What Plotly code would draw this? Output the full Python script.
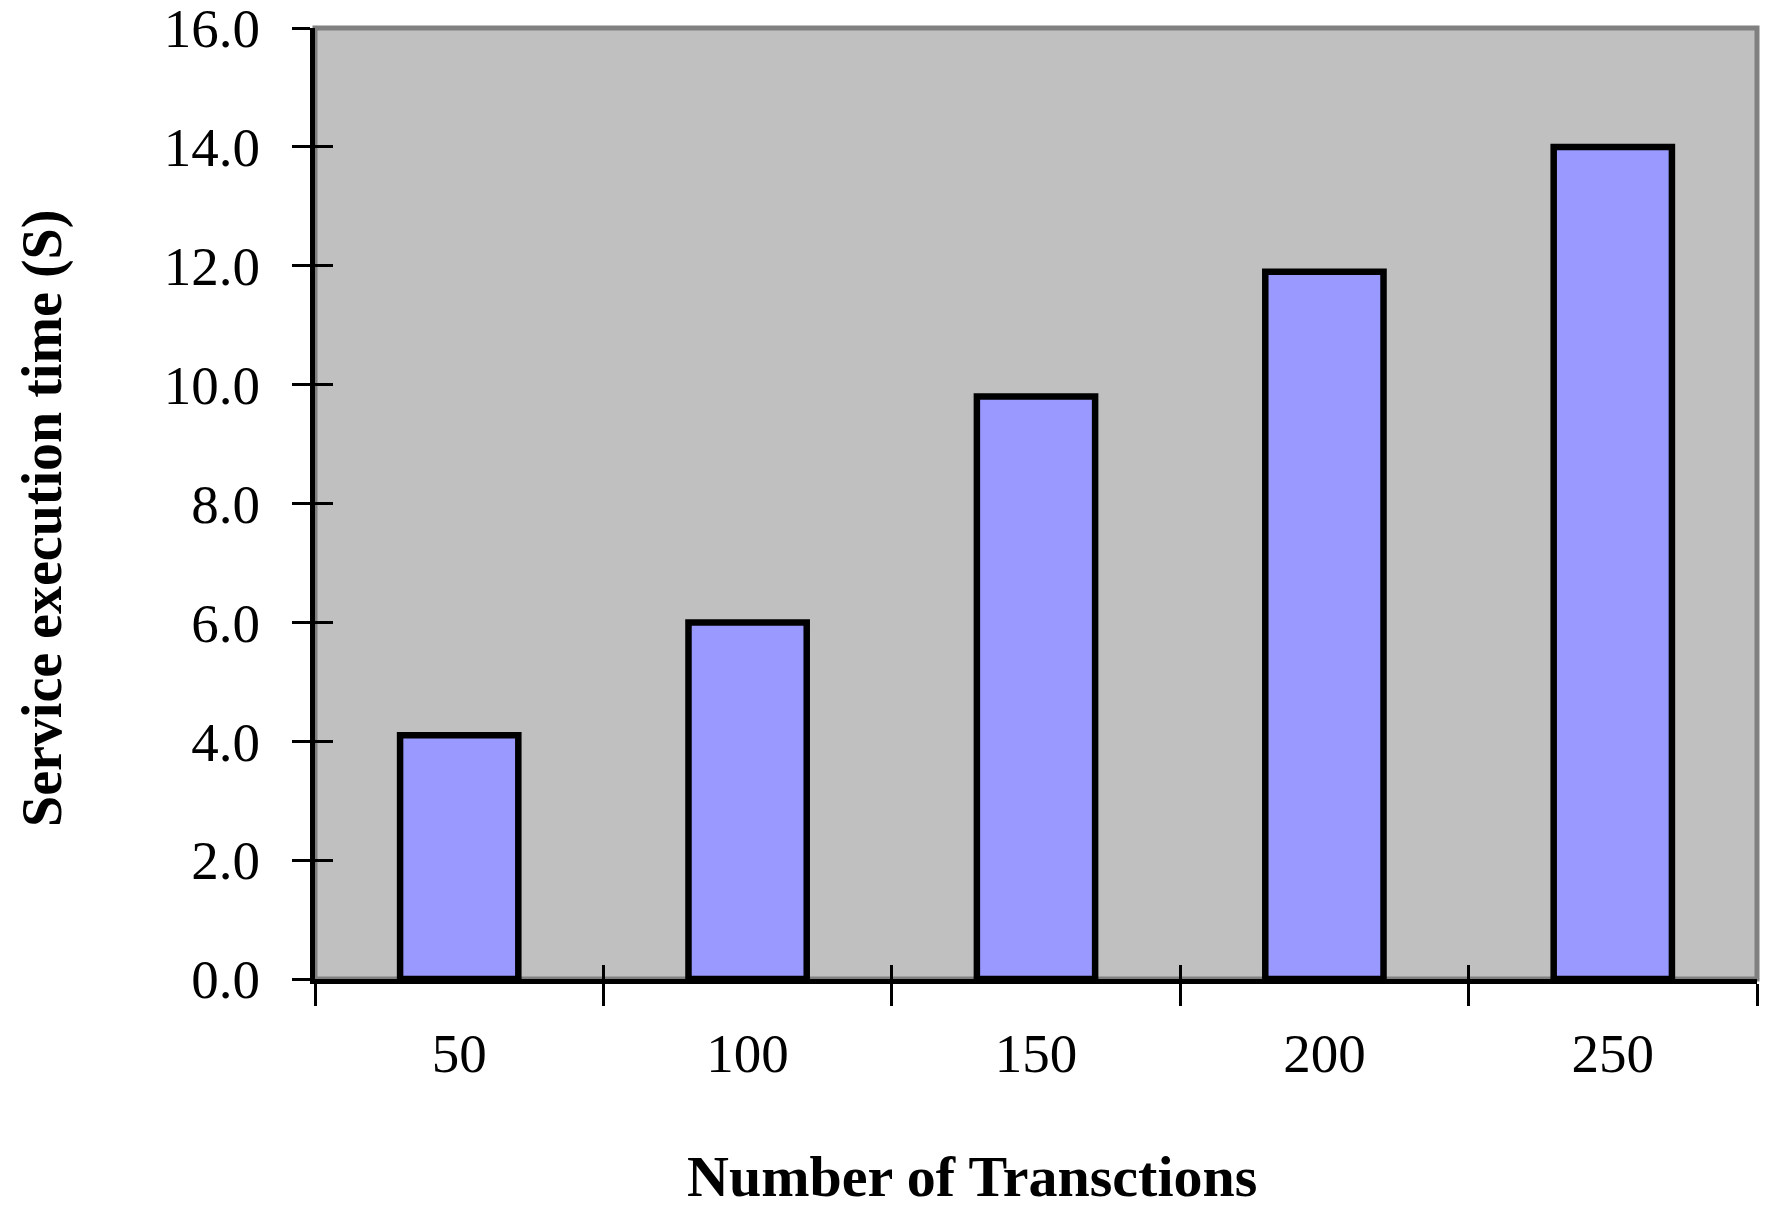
import plotly.graph_objects as go

# Data
transactions = ["50", "100", "150", "200", "250"]
exec_time = [4.1, 6.0, 9.8, 11.9, 14.0]
y_ticks = [0, 2, 4, 6, 8, 10, 12, 14, 16]

SERIF = "Liberation Serif, Times New Roman, serif"
BAR_FILL = "#9999FF"
PLOT_BG = "#C0C0C0"

# the page body adds an 8px margin, so the figure is drawn 8px smaller
W, H = 1773, 1203
L, R, T, B = 307, 24, 20, 232

fig = go.Figure()

fig.add_trace(
    go.Bar(
        x=transactions,
        y=exec_time,
        marker=dict(color=BAR_FILL, line=dict(color="black", width=6.5)),
        showlegend=False,
    )
)

# invisible copy on the overlay axes, so the inside ticks have categories
fig.add_trace(
    go.Bar(
        x=transactions,
        y=exec_time,
        xaxis="x2",
        yaxis="y2",
        marker=dict(opacity=0),
        hoverinfo="skip",
        showlegend=False,
    )
)

# plot-area border (gray, Excel style)
fig.add_shape(
    type="rect",
    xref="x domain",
    yref="y domain",
    x0=0, x1=1, y0=0, y1=1,
    line=dict(color="#808080", width=5),
    layer="below",
)

pw = W - L - R
ph = H - T - B

fig.update_layout(
    width=W,
    height=H,
    paper_bgcolor="white",
    plot_bgcolor=PLOT_BG,
    bargap=0.59,
    margin=dict(l=L, r=R, t=T, b=B, autoexpand=False),
    font=dict(family=SERIF, color="black"),
    xaxis=dict(
        type="category",
        range=[-0.5, 4.5],
        automargin=False,
        showline=True,
        linecolor="black",
        linewidth=5,
        ticks="outside",
        tickson="boundaries",
        ticklen=22,
        tickwidth=3,
        tickcolor="black",
        tickfont=dict(family=SERIF, size=55, color="black"),
        ticklabelstandoff=22,
        showgrid=False,
        zeroline=False,
    ),
    xaxis2=dict(
        type="category",
        overlaying="x",
        side="bottom",
        range=[-0.5, 4.5],
        ticks="inside",
        tickson="boundaries",
        ticklen=14,
        tickwidth=3,
        tickcolor="black",
        showticklabels=False,
        showline=False,
        showgrid=False,
        zeroline=False,
    ),
    yaxis=dict(
        range=[0, 16],
        automargin=False,
        tickvals=y_ticks,
        tickformat=".1f",
        ticklabeloverflow="allow",
        showline=True,
        linecolor="black",
        linewidth=5,
        ticks="outside",
        ticklen=18,
        tickwidth=3,
        tickcolor="black",
        tickfont=dict(family=SERIF, size=55, color="black"),
        ticklabelstandoff=21,
        showgrid=False,
        zeroline=False,
    ),
    yaxis2=dict(
        overlaying="y",
        side="left",
        range=[0, 16],
        tickvals=y_ticks,
        ticks="inside",
        ticklen=18,
        tickwidth=3,
        tickcolor="black",
        showticklabels=False,
        showline=False,
        showgrid=False,
        zeroline=False,
    ),
    annotations=[
        dict(
            text="<b>Number of Transctions</b>",
            xref="paper", yref="paper",
            x=(964 - L) / pw,
            y=-(1168 - (H - B)) / ph,
            xanchor="center", yanchor="middle",
            showarrow=False,
            font=dict(family=SERIF, size=58, color="black"),
        ),
        dict(
            text="<b>Service execution time (S)</b>",
            xref="paper", yref="paper",
            x=-(L - 34) / pw,
            y=((H - B) - 511) / ph,
            xanchor="center", yanchor="middle",
            textangle=-90,
            showarrow=False,
            font=dict(family=SERIF, size=56, color="black"),
        ),
    ],
)

fig.write_html("out.html")
